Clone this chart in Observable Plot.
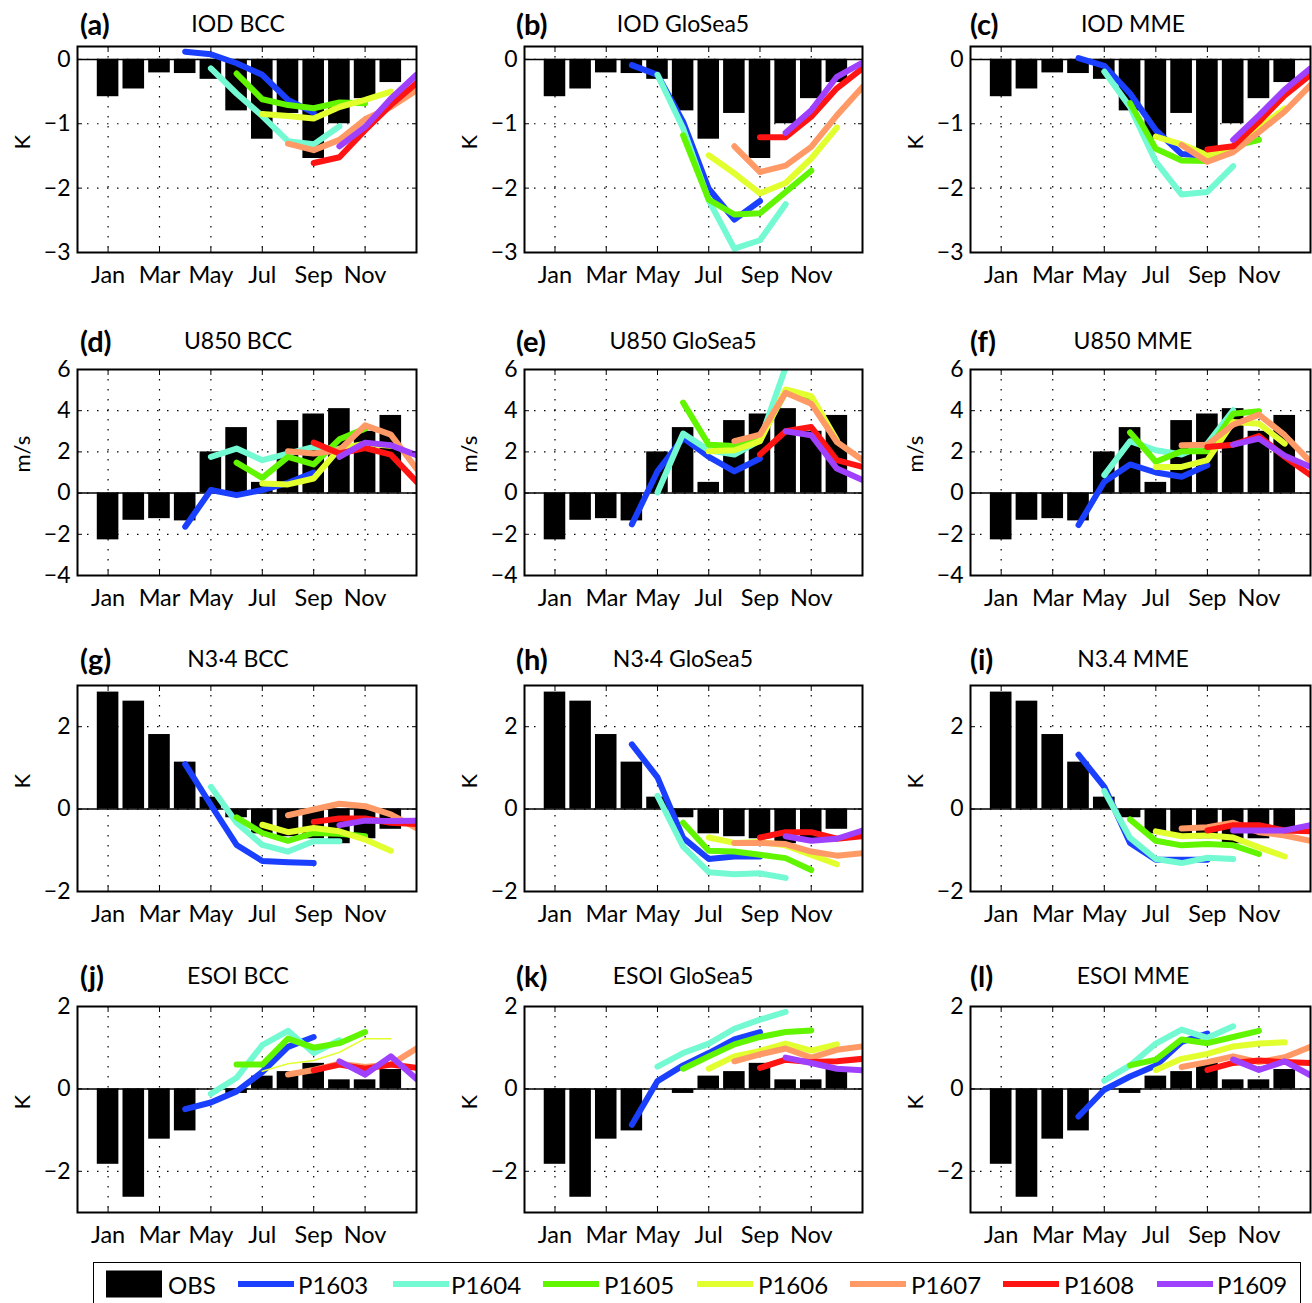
<!DOCTYPE html>
<html><head><meta charset="utf-8">
<script src="https://cdn.jsdelivr.net/npm/d3@7"></script>
<script src="https://cdn.jsdelivr.net/npm/@observablehq/plot@0.6"></script>
<style>
body{margin:0;background:#fff;font-family:Lato,"Open Sans",sans-serif;}
#fig{position:relative;width:1312px;height:1303px;overflow:hidden;background:#fff;}
.panel{position:absolute;}
.panel svg{max-width:none !important;}
.ttl{position:absolute;font-size:23px;white-space:nowrap;transform:translate(-50%,-50%);}
.lbl{position:absolute;font-size:29px;font-weight:bold;white-space:nowrap;transform:translateY(-50%);}
#legend{position:absolute;left:93px;top:1262px;width:1208px;height:44px;border:1.5px solid #000;box-sizing:border-box;}
.li{position:absolute;top:50%;transform:translateY(-50%);font-size:24px;white-space:nowrap;}
.sw{position:absolute;top:50%;transform:translateY(-50%);}
</style></head><body><div id="fig"><div id="legend"></div></div>
<script>
// ---------- data ----------
const monthTicks = [1, 3, 5, 7, 9, 11];
const monthLabels = ["Jan", "Mar", "May", "Jul", "Sep", "Nov"];
const runs = ["P1603", "P1604", "P1605", "P1606", "P1607", "P1608", "P1609"];
const runStart = [4, 5, 6, 7, 8, 9, 10];
const runColors = ["#1a3fff", "#73fad2", "#62f500", "#e2ff2e", "#ff9966", "#ff1414", "#a040ff"];

const obsIOD  = [-0.58, -0.46, -0.21, -0.22, -0.31, -0.80, -1.24, -0.84, -1.54, -1.00, -0.61, -0.36];
const obsU850 = [-2.27, -1.32, -1.24, -1.35, 2.00, 3.18, 0.52, 3.52, 3.84, 4.10, 3.00, 3.77];
const obsN34  = [2.84, 2.62, 1.81, 1.14, 0.29, -0.21, -0.60, -0.67, -0.72, -0.84, -0.72, -0.49];
const obsESOI = [-1.83, -2.63, -1.22, -1.02, 0.00, -0.11, 0.31, 0.42, 0.62, 0.22, 0.22, 0.47];

const iodBCC = [
  [0.12, 0.08, -0.06, -0.24, -0.63, -0.83],
  [-0.14, -0.53, -0.88, -1.27, -1.32, -1.04],
  [-0.22, -0.62, -0.71, -0.76, -0.67, -0.68],
  [-0.85, -0.88, -0.92, -0.74, -0.63, -0.50],
  [-1.31, -1.41, -1.25, -0.93, -0.74, -0.48],
  [-1.61, -1.52, -1.10, -0.71, -0.37],
  [-1.35, -1.05, -0.61, -0.24]
];
const iodGlo = [
  [-0.09, -0.24, -0.97, -2.01, -2.49, -2.20],
  [-0.24, -1.07, -2.19, -2.94, -2.81, -2.25],
  [-1.18, -2.18, -2.41, -2.39, -2.06, -1.73],
  [-1.49, -1.77, -2.08, -1.92, -1.54, -1.06],
  [-1.35, -1.75, -1.65, -1.36, -0.87, -0.43],
  [-1.21, -1.21, -0.89, -0.45, -0.14],
  [-1.14, -0.79, -0.27, -0.05]
];
const iodMME = [
  [0.02, -0.10, -0.53, -1.10, -1.47, -1.50],
  [-0.19, -0.74, -1.59, -2.10, -2.06, -1.66],
  [-0.68, -1.39, -1.57, -1.58, -1.35, -1.25],
  [-1.20, -1.32, -1.49, -1.35, -1.07, -0.76],
  [-1.33, -1.59, -1.44, -1.13, -0.81, -0.40],
  [-1.40, -1.35, -0.97, -0.56, -0.24],
  [-1.25, -0.87, -0.47, -0.14]
];
const u850BCC = [
  [-1.63, 0.15, -0.10, 0.15, 0.50, 1.00],
  [1.76, 2.16, 1.60, 1.92, 2.24, 2.10],
  [1.48, 0.74, 1.76, 1.39, 2.61, 3.13],
  [0.47, 0.42, 0.71, 2.16, 2.40, 2.30],
  [2.03, 1.92, 2.08, 3.29, 2.84, 1.19],
  [2.45, 1.92, 2.19, 1.87, 0.55],
  [1.76, 2.45, 2.32, 1.84]
];
const u850Glo = [
  [-1.52, 1.06, 2.68, 1.76, 1.06, 1.68],
  [0.03, 2.89, 2.08, 1.87, 2.56, 6.10],
  [4.39, 2.35, 2.29, 2.61, 4.90, 4.60],
  [2.03, 2.08, 2.52, 5.03, 4.71, 2.56],
  [2.52, 2.84, 4.87, 4.34, 2.48, 1.60],
  [1.87, 3.00, 3.21, 1.60, 1.27],
  [3.00, 2.81, 1.19, 0.63]
];
const u850MME = [
  [-1.55, 0.55, 1.39, 1.00, 0.79, 1.35],
  [0.87, 2.52, 2.08, 1.87, 2.40, 4.02],
  [2.94, 1.52, 2.03, 2.03, 3.85, 3.97],
  [1.27, 1.27, 1.60, 3.45, 3.37, 2.40],
  [2.32, 2.35, 3.32, 3.81, 2.81, 1.52],
  [2.24, 2.35, 2.77, 1.76, 0.87],
  [2.35, 2.65, 1.81, 1.27]
];
const n34BCC = [
  [1.09, 0.10, -0.87, -1.26, -1.29, -1.31],
  [0.54, -0.33, -0.87, -1.03, -0.78, -0.78],
  [-0.20, -0.58, -0.77, -0.58, -0.60, -0.66],
  [-0.38, -0.56, -0.46, -0.54, -0.74, -1.01],
  [-0.15, -0.01, 0.13, 0.07, -0.13, -0.46],
  [-0.31, -0.23, -0.23, -0.33, -0.36],
  [-0.39, -0.28, -0.29, -0.28]
];
const n34Glo = [
  [1.57, 0.77, -0.70, -1.21, -1.15, -1.15],
  [0.32, -0.91, -1.53, -1.58, -1.56, -1.67],
  [-0.33, -1.01, -1.03, -1.11, -1.19, -1.48],
  [-0.69, -0.82, -0.80, -0.88, -1.11, -1.34],
  [-0.82, -0.82, -0.85, -1.03, -1.13, -1.07],
  [-0.69, -0.56, -0.56, -0.72, -0.66],
  [-0.66, -0.77, -0.72, -0.52]
];
const n34MME = [
  [1.32, 0.54, -0.82, -1.23, -1.23, -1.23],
  [0.44, -0.70, -1.21, -1.31, -1.18, -1.21],
  [-0.25, -0.77, -0.88, -0.85, -0.88, -1.09],
  [-0.54, -0.66, -0.64, -0.69, -0.93, -1.15],
  [-0.47, -0.44, -0.33, -0.56, -0.64, -0.77],
  [-0.52, -0.39, -0.39, -0.52, -0.54],
  [-0.52, -0.52, -0.52, -0.39]
];
const esoiBCC = [
  [-0.49, -0.33, -0.06, 0.41, 1.02, 1.26],
  [-0.12, 0.27, 1.06, 1.41, 0.87, 1.18],
  [0.59, 0.59, 1.22, 1.00, 1.11, 1.38],
  [0.43, 0.61, 0.69, 0.89, 1.22, 1.22],
  [0.35, 0.46, 0.61, 0.53, 0.59, 0.98],
  [0.45, 0.59, 0.49, 0.59, 0.51],
  [0.67, 0.35, 0.79, 0.24]
];
const esoiGlo = [
  [-0.87, 0.19, 0.57, 0.87, 1.20, 1.38],
  [0.54, 0.87, 1.10, 1.46, 1.68, 1.87],
  [0.49, 0.79, 1.08, 1.26, 1.38, 1.42],
  [0.49, 0.79, 0.92, 1.10, 0.93, 1.08],
  [0.67, 0.84, 0.98, 0.76, 0.95, 1.03],
  [0.51, 0.71, 0.65, 0.67, 0.73],
  [0.76, 0.63, 0.49, 0.45]
];
const esoiMME = [
  [-0.67, -0.02, 0.30, 0.57, 1.14, 1.34],
  [0.20, 0.57, 1.10, 1.44, 1.24, 1.52],
  [0.57, 0.71, 1.20, 1.11, 1.26, 1.41],
  [0.46, 0.73, 0.85, 1.03, 1.10, 1.13],
  [0.53, 0.65, 0.79, 0.65, 0.77, 1.02],
  [0.46, 0.63, 0.69, 0.65, 0.63],
  [0.71, 0.46, 0.67, 0.33]
];

// ---------- layout ----------
const colLeft = [77, 524, 970];
const colWidth = [339, 338, 340];
const rowTop = [46, 368.5, 685, 1005.5];
const plotH = 206;
const titleX = [238, 683, 1133];
const titleY = [23, 340, 658, 975];
const letterX = [80, 516, 970];

const rowsCfg = [
  {name: "IOD", obs: obsIOD, dom: [-3, 0.2], ticks: [-3, -2, -1, 0], unit: "K", sets: [iodBCC, iodGlo, iodMME]},
  {name: "U850", obs: obsU850, dom: [-4, 6], ticks: [-4, -2, 0, 2, 4, 6], unit: "m/s", sets: [u850BCC, u850Glo, u850MME]},
  {name: "N3·4", obs: obsN34, dom: [-2, 3], ticks: [-2, 0, 2], unit: "K", sets: [n34BCC, n34Glo, n34MME]},
  {name: "ESOI", obs: obsESOI, dom: [-3, 2], ticks: [-2, 0, 2], unit: "K", sets: [esoiBCC, esoiGlo, esoiMME]}
];
const models = ["BCC", "GloSea5", "MME"];
const letters = "abcdefghijkl";

const fmt = d => d < 0 ? "\u2212" + Math.abs(d) : String(d);
const fig = document.getElementById("fig");

rowsCfg.forEach((rc, r) => {
  models.forEach((model, c) => {
    const series = rc.sets[c];
    const data = [];
    series.forEach((vals, i) => vals.forEach((v, j) => data.push({run: runs[i], m: runStart[i] + j, v})));
    const bars = rc.obs.map((v, i) => ({m: i + 1, v}));
    const thin = (r === 3 && c === 0) ? "P1606" : null;
    const ml = 70, mr = 4, mt = 8, mb = 45;
    const w = colWidth[c];
    const gridStyle = {stroke: "#000", strokeOpacity: 1, strokeWidth: 1.2, strokeDasharray: "1.5,8.5"};
    const svg = Plot.plot({
      width: w + ml + mr, height: plotH + mt + mb,
      marginLeft: ml, marginRight: mr, marginTop: mt, marginBottom: mb,
      style: {fontFamily: "Lato, 'Open Sans', sans-serif", fontSize: "23px", background: "transparent", overflow: "visible", maxWidth: "none"},
      x: {domain: [-0.19, 13]},
      y: {domain: rc.dom},
      color: {domain: runs, range: runColors},
      marks: [
        Plot.gridX(monthTicks, gridStyle),
        Plot.gridY(rc.ticks, gridStyle),
        Plot.rectY(bars, {x1: d => d.m - 0.42, x2: d => d.m + 0.42, y1: 0, y2: "v", fill: "#000"}),
        Plot.ruleY([0], {stroke: "#000", strokeWidth: 1.5}),
        Plot.line(data.filter(d => d.run !== thin), {x: "m", y: "v", z: "run", stroke: "run", strokeWidth: 6, strokeLinejoin: "round", clip: true}),
        Plot.line(data.filter(d => d.run === thin), {x: "m", y: "v", z: "run", stroke: "run", strokeWidth: 1.5, clip: true}),
        Plot.frame({stroke: "#000", strokeWidth: 2}),
        Plot.axisX(monthTicks, {anchor: "bottom", tickSize: -5, tickPadding: 19, label: null, fontSize: 23.5,
          tickFormat: d => monthLabels[monthTicks.indexOf(d)]}),
        Plot.axisX(monthTicks, {anchor: "top", tickSize: -5, label: null, tickFormat: () => ""}),
        Plot.axisY(rc.ticks, {anchor: "left", tickSize: -5, tickPadding: 12, label: null, fontSize: 23, tickFormat: fmt}),
        Plot.axisY(rc.ticks, {anchor: "right", tickSize: -5, label: null, tickFormat: () => ""}),
        Plot.text([rc.unit], {frameAnchor: "left", dx: -55, rotate: -90, fontSize: 22, text: d => d})
      ]
    });
    const holder = document.createElement("div");
    holder.className = "panel";
    holder.style.left = (colLeft[c] - ml) + "px";
    holder.style.top = (rowTop[r] - mt) + "px";
    holder.style.width = (w + ml + mr) + "px";
    holder.appendChild(svg);
    fig.appendChild(holder);

    const lb = document.createElement("div");
    lb.className = "lbl";
    lb.style.left = letterX[c] + "px";
    lb.style.top = titleY[r] + "px";
    lb.textContent = "(" + letters[r * 3 + c] + ")";
    fig.appendChild(lb);

    const tt = document.createElement("div");
    tt.className = "ttl";
    tt.style.left = titleX[c] + "px";
    tt.style.top = titleY[r] + "px";
    const nm = (r === 2 && c === 2) ? "N3.4" : rc.name;
    tt.textContent = nm + " " + model;
    fig.appendChild(tt);
  });
});

// ---------- legend ----------
const legend = document.getElementById("legend");
const legItems = [
  {label: "OBS", color: "#000", sx: 105, tx: 167, bar: true},
  {label: runs[0], color: runColors[0], sx: 237, tx: 297},
  {label: runs[1], color: runColors[1], sx: 392, tx: 450},
  {label: runs[2], color: runColors[2], sx: 542, tx: 603},
  {label: runs[3], color: runColors[3], sx: 696, tx: 757},
  {label: runs[4], color: runColors[4], sx: 849, tx: 910},
  {label: runs[5], color: runColors[5], sx: 1002, tx: 1063},
  {label: runs[6], color: runColors[6], sx: 1156, tx: 1216}
];
legItems.forEach(it => {
  const sw = document.createElement("div");
  sw.className = "sw";
  sw.style.left = (it.sx - 93) + "px";
  sw.style.width = "56px";
  sw.style.height = it.bar ? "27px" : "6px";
  sw.style.background = it.color;
  legend.appendChild(sw);
  const tx = document.createElement("div");
  tx.className = "li";
  tx.style.left = (it.tx - 93) + "px";
  tx.textContent = it.label;
  legend.appendChild(tx);
});
</script></body></html>
